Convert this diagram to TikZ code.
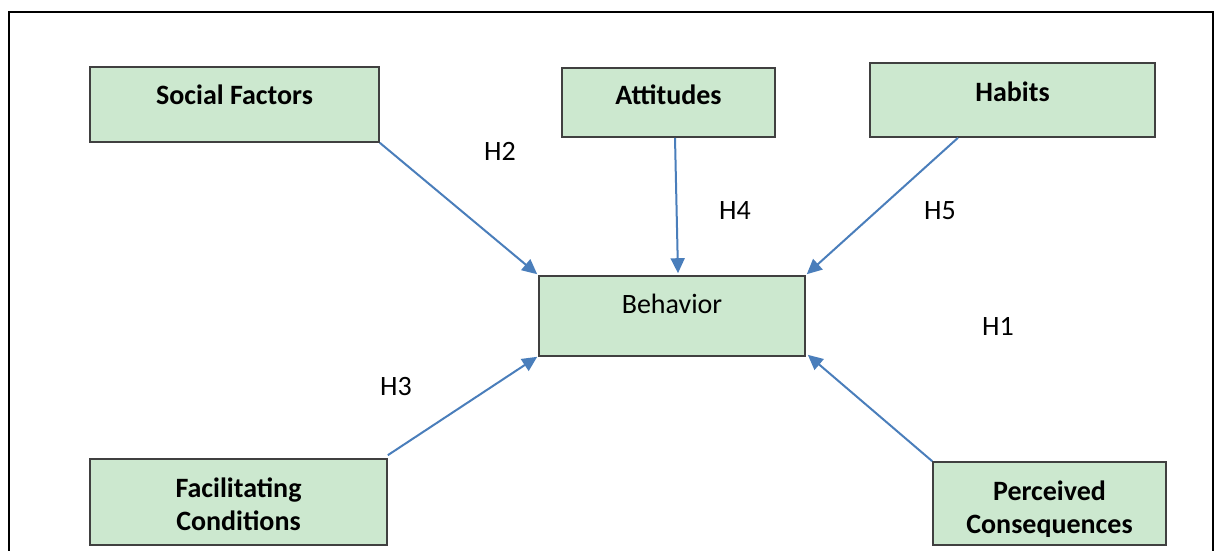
\documentclass[tikz,border=0pt]{standalone}
\usepackage{fontspec}
\setmainfont{Carlito}
\usetikzlibrary{arrows.meta}
\definecolor{boxfill}{RGB}{204,232,207}
\definecolor{boxline}{RGB}{64,64,64}
\definecolor{arrowblue}{RGB}{74,126,187}
\begin{document}
\begin{tikzpicture}[x=1pt,y=-1pt,
  box/.style={draw=boxline,fill=boxfill,line width=1.6pt,inner sep=0pt},
  lbl/.style={font=\fontsize{28}{33}\selectfont\bfseries,anchor=base,inner sep=0pt,align=center},
  rlbl/.style={font=\fontsize{28}{33}\selectfont,anchor=base,inner sep=0pt},
  conn/.style={draw=arrowblue,line width=2pt,-{Triangle[length=15pt,width=14pt]}}]
\useasboundingbox (0,0) rectangle (1218,551);
% outer frame
\draw[line width=2.2pt] (9,570) -- (9,12) -- (1213,12) -- (1213,570);
% boxes
\node[box,minimum width=289pt,minimum height=75pt] (sf) at (234.5,104.5) {};
\node[box,minimum width=213pt,minimum height=69pt] (att) at (668.5,102.5) {};
\node[box,minimum width=285pt,minimum height=74pt] (hab) at (1012.5,100) {};
\node[box,minimum width=266pt,minimum height=80pt] (beh) at (672,316) {};
\node[box,minimum width=297pt,minimum height=86pt] (fc) at (238.5,502) {};
\node[box,minimum width=233pt,minimum height=83pt] (pc) at (1049.5,503.5) {};
% texts
\node[lbl] (tsf) at (234.5,104) {Social Factors};
\node[lbl] (tatt) at (668.5,104) {Attitudes};
\node[lbl] (thab) at (1012.5,101) {Habits};
\node[rlbl] (tbeh) at (672,313) {Behavior};
\node[lbl] (tfc) at (238.5,530) {Facilitating\\Conditions};
\begin{scope}
\clip (933,462) rectangle (1166,536);
\node[lbl] (tpc) at (1049.5,533) {Perceived\\Consequences};
\end{scope}
% hypothesis labels
\node[rlbl] (h2) at (500,160) {H2};
\node[rlbl] (h4) at (735,219) {H4};
\node[rlbl] (h5) at (940,219) {H5};
\node[rlbl] (h1) at (998,335) {H1};
\node[rlbl] (h3) at (396,395) {H3};
% connectors
\draw[conn] (sf.south east) -- ([xshift=-1pt,yshift=1pt]beh.north west);
\draw[conn] ([xshift=6.5pt]att.south) -- ([xshift=6pt,yshift=2pt]beh.north);
\draw[conn] ([xshift=-54.5pt]hab.south) -- ([xshift=1pt,yshift=1pt]beh.north east);
\draw[conn] ([yshift=3pt]fc.north east) -- ([xshift=-1pt]beh.south west);
\draw[conn] (pc.north west) -- ([xshift=2pt,yshift=2pt]beh.south east);
\end{tikzpicture}
\end{document}
